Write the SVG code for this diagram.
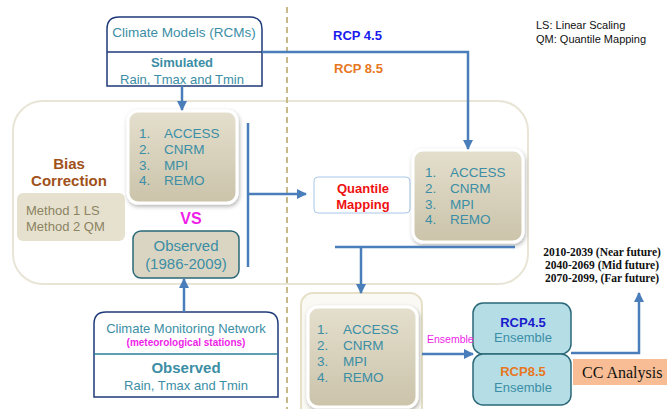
<svg xmlns="http://www.w3.org/2000/svg" width="667" height="409" viewBox="0 0 667 409">
<defs>
<marker id="ah" viewBox="0 0 10 10" refX="9" refY="5" markerWidth="4" markerHeight="4" orient="auto" markerUnits="strokeWidth">
<path d="M0,0 L10,5 L0,10 z" fill="#4a7ebb"/>
</marker>
<linearGradient id="beige" x1="0" y1="0" x2="0" y2="1">
<stop offset="0" stop-color="#e4dfcd"/>
<stop offset="1" stop-color="#cbc3aa"/>
</linearGradient>
<filter id="sh" x="-20%" y="-20%" width="140%" height="140%">
<feDropShadow dx="1" dy="2" stdDeviation="2" flood-color="#000" flood-opacity="0.3"/>
</filter>
<style>
text{font-family:"Liberation Sans",Arial,sans-serif}
.teal{fill:#3b8ea5}
.c{text-anchor:middle}
.b{font-weight:bold}
.conn{fill:none;stroke:#4a7ebb;stroke-width:2.5}
.list{fill:url(#beige);stroke:#fff;stroke-width:3;filter:url(#sh)}
.ser{font-family:"Liberation Serif","Times New Roman",serif}
</style>
</defs>

<!-- background containers -->
<rect x="13" y="101" width="515" height="183" rx="30" fill="#fff" stroke="#e8e5d6" stroke-width="2"/>
<line x1="287" y1="7" x2="287" y2="409" stroke="#c8b98a" stroke-width="2" stroke-dasharray="6,4"/>

<g id="climate-models">
<path d="M107,86 V29 Q107,17 119,17 H250 Q262,17 262,29 V86 Z" fill="#fff" stroke="#1f3a7a" stroke-width="1.5"/>
<line x1="107" y1="52" x2="262" y2="52" stroke="#1f3a7a" stroke-width="1.5"/>
<text x="184" y="37" class="teal c" font-size="13.5">Climate Models (RCMs)</text>
<text x="182" y="67" class="teal c b" font-size="13">Simulated</text>
<text x="182" y="84" class="teal c" font-size="13">Rain, Tmax and Tmin</text>
</g>

<g id="rcp-labels">
<text x="333" y="40" class="b" font-size="13" fill="#1a1aee">RCP 4.5</text>
<text x="334" y="73" class="b" font-size="13" fill="#e87722">RCP 8.5</text>
</g>

<g id="legend">
<text x="536" y="29" font-size="11" fill="#111">LS: Linear Scaling</text>
<text x="536" y="43" font-size="11" fill="#111">QM: Quantile Mapping</text>
</g>

<g id="models-left">
<rect x="128" y="111" width="109" height="92" rx="10" class="list"/>
<text font-size="13.5" class="teal"><tspan x="139" y="138">1.</tspan><tspan x="164" y="138">ACCESS</tspan><tspan x="139" y="154">2.</tspan><tspan x="164" y="154">CNRM</tspan><tspan x="139" y="170">3.</tspan><tspan x="164" y="170">MPI</tspan><tspan x="139" y="185">4.</tspan><tspan x="164" y="185">REMO</tspan></text>
</g>

<g id="bias-correction">
<text x="69" y="169" class="c b" font-size="15" fill="#a0521a">Bias</text>
<text x="69" y="186" class="c b" font-size="15" fill="#a0521a">Correction</text>
</g>

<g id="methods">
<rect x="17" y="193" width="108" height="48" rx="6" fill="#e6e1cf"/>
<text x="26" y="215" font-size="13" fill="#8c8360">Method 1 LS</text>
<text x="26" y="231" font-size="13" fill="#8c8360">Method 2 QM</text>
</g>

<g id="vs">
<text x="191" y="224" class="c b" font-size="16" fill="#ee1ee8">VS</text>
</g>

<g id="observed">
<rect x="133" y="231" width="106" height="47" rx="8" fill="#dad5c2" stroke="#2a6878" stroke-width="1.5"/>
<text x="186" y="251" class="teal c" font-size="15">Observed</text>
<text x="186" y="269" class="teal c" font-size="15">(1986-2009)</text>
</g>

<g id="monitoring-network">
<path d="M94,397 V324 Q94,312 106,312 H266 Q278,312 278,324 V397 Z" fill="#fff" stroke="#1f3a7a" stroke-width="1.5"/>
<line x1="94" y1="354" x2="278" y2="354" stroke="#2a7e9a" stroke-width="1.5"/>
<text x="186" y="333" class="teal c" font-size="13">Climate Monitoring Network</text>
<text x="186" y="346" class="c b" font-size="10" fill="#ee1ee8">(meteorological stations)</text>
<text x="186" y="373" class="teal c b" font-size="15">Observed</text>
<text x="186" y="390" class="teal c" font-size="13">Rain, Tmax and Tmin</text>
</g>

<g id="quantile-mapping">
<rect x="314" y="177" width="96" height="36" rx="4" fill="#fff" stroke="#a8c8e8" stroke-width="1"/>
<text x="363" y="193" class="c b" font-size="13" fill="#ee1111">Quantile</text>
<text x="363" y="209" class="c b" font-size="13" fill="#ee1111">Mapping</text>
</g>

<g id="models-right">
<rect x="413" y="150" width="110" height="92" rx="10" class="list"/>
<text font-size="13.5" class="teal"><tspan x="425" y="177">1.</tspan><tspan x="450" y="177">ACCESS</tspan><tspan x="425" y="193">2.</tspan><tspan x="450" y="193">CNRM</tspan><tspan x="425" y="209">3.</tspan><tspan x="450" y="209">MPI</tspan><tspan x="425" y="224">4.</tspan><tspan x="450" y="224">REMO</tspan></text>
</g>

<g id="periods">
<text x="602" y="256" class="ser c b" font-size="11.5" fill="#111">2010-2039 (Near future)</text>
<text x="602" y="269" class="ser c b" font-size="11.5" fill="#111">2040-2069 (Mid future)</text>
<text x="602" y="282" class="ser c b" font-size="11.5" fill="#111">2070-2099, (Far future)</text>
</g>

<g id="models-bottom">
<rect x="301" y="293" width="121" height="130" rx="12" fill="#faf9f3" stroke="#e6e0c8" stroke-width="2"/>
<rect x="308" y="307" width="109" height="100" rx="10" class="list"/>
<text font-size="13.5" class="teal"><tspan x="317" y="334">1.</tspan><tspan x="343" y="334">ACCESS</tspan><tspan x="317" y="350">2.</tspan><tspan x="343" y="350">CNRM</tspan><tspan x="317" y="366">3.</tspan><tspan x="343" y="366">MPI</tspan><tspan x="317" y="382">4.</tspan><tspan x="343" y="382">REMO</tspan></text>
</g>

<g id="rcp45-ensemble">
<rect x="473" y="303" width="98" height="51" rx="10" fill="#b5dde6" stroke="#2a6878" stroke-width="1.5"/>
<text x="523" y="327" class="c b" font-size="13" fill="#1a1acc">RCP4.5</text>
<text x="523" y="342" class="teal c" font-size="13">Ensemble</text>
</g>

<g id="rcp85-ensemble">
<rect x="473" y="354" width="98" height="51" rx="10" fill="#b5dde6" stroke="#2a6878" stroke-width="1.5"/>
<text x="523" y="376" class="c b" font-size="13" fill="#e87722">RCP8.5</text>
<text x="523" y="392" class="teal c" font-size="13">Ensemble</text>
</g>

<g id="cc-analysis">
<rect x="573" y="359" width="94" height="26" fill="#f8bd94"/>
<text x="582" y="378" class="ser" font-size="16" fill="#111">CC Analysis</text>
</g>

<g id="connectors">
<line x1="182" y1="86" x2="182" y2="110" class="conn" marker-end="url(#ah)"/>
<polyline points="262,52 468,52 468,149" class="conn" marker-end="url(#ah)"/>
<line x1="248" y1="123" x2="248" y2="267" class="conn"/>
<line x1="248" y1="194" x2="306" y2="194" class="conn" marker-end="url(#ah)"/>
<line x1="184" y1="312" x2="184" y2="279" class="conn" marker-end="url(#ah)"/>
<line x1="335" y1="247" x2="515" y2="247" class="conn"/>
<line x1="361" y1="247" x2="361" y2="293" class="conn" marker-end="url(#ah)"/>
<line x1="422" y1="354" x2="473" y2="354" class="conn" marker-end="url(#ah)"/>
<polyline points="571,353 639,353 639,293" class="conn" marker-end="url(#ah)"/>
<text x="427" y="343" font-size="10.5" fill="#ee1ee8">Ensemble</text>
</g>
</svg>
